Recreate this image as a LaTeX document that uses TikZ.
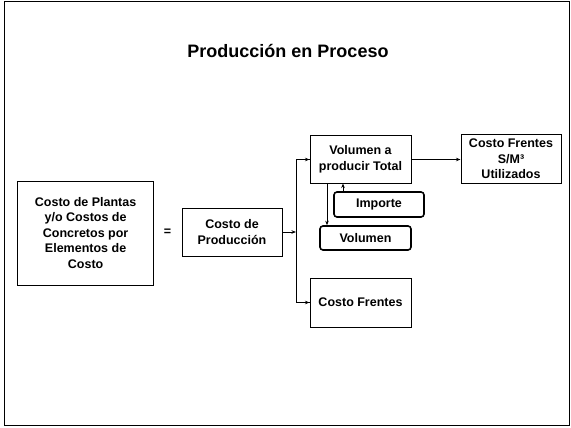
\documentclass[tikz,border=0pt]{standalone}
\usepackage{fontspec}
\setmainfont{Liberation Sans}
\usetikzlibrary{calc}
\usetikzlibrary{arrows.meta}

\tikzset{
  costbox/.style={draw, line width=1pt, align=center, inner sep=2pt,
    font=\fontsize{12.5}{15.5}\selectfont\bfseries},
  roundbox/.style={costbox, rounded corners=3pt, line width=1.6pt},
  flow/.style={line width=0.9pt, -{Stealth[length=4.5pt,width=3.5pt]}}
}

\begin{document}
\begin{tikzpicture}[x=1pt, y=-1pt]
  \useasboundingbox (0,0) rectangle (571,428);
  \draw[line width=1.5pt] (4.5,1.5) rectangle (569.5,425.5);
  \node[font=\fontsize{18}{22}\selectfont\bfseries] (title) at (288,51) {Producción en Proceso};
  % boxes
  \node[costbox, minimum width=136pt, minimum height=104pt] (plantas) at (85.6,233)
    {Costo de Plantas\\y/o Costos de\\Concretos por\\Elementos de\\Costo};
  \node[font=\fontsize{12.5}{15}\selectfont\bfseries] (eq) at (167.5,232) {=};
  \node[costbox, minimum width=100pt, minimum height=48pt] (prod) at (232,232) {Costo de\\Producción};
  \node[costbox, minimum width=101pt, minimum height=47pt] (voltot) at (360.5,159.5) {Volumen a\\producir Total};
  \node[costbox, minimum width=100pt, minimum height=48pt] (frm3) at (511,159) {Costo Frentes\\S/M³\\Utilizados};
  \node[roundbox, minimum width=90pt, minimum height=25pt] (importe) at (379,204.5) {Importe};
  \node[roundbox, minimum width=91pt, minimum height=24pt] (volumen) at (365.5,238) {Volumen};
  \node[costbox, minimum width=101pt, minimum height=49pt] (frentes) at (360.5,302.5) {Costo Frentes};
  % connectors
  \coordinate (J) at (296,232);
  \coordinate (v1) at ($(voltot.south)+(-33.5,0)$);
  \coordinate (i1) at ($(importe.north)+(-36,0)$);
  \draw[flow] (prod.east) -- (J);
  \draw[line width=0.9pt] (J) |- (voltot.west) (J) |- (frentes.west);
  \draw[flow] (J |- voltot.west) -- (voltot.west);
  \draw[flow] (J |- frentes.west) -- (frentes.west);
  \draw[flow] (voltot.east) -- (voltot.east -| frm3.west);
  \draw[flow] (v1) -- (v1 |- volumen.north);
  \draw[flow] (i1) -- (i1 |- voltot.south);
\end{tikzpicture}
\end{document}
